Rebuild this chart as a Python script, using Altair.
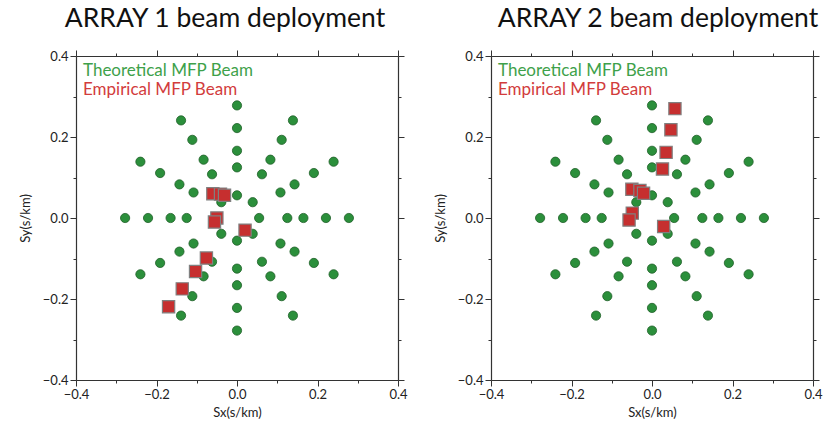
import altair as alt
import pandas as pd

# Theoretical MFP beam grid (slowness vector, s/km): inner 8-point ring plus four 12-point rings
theo_sx = [0.055, 0.039, 0.0, -0.039, -0.055, -0.039, 0.0, 0.039,
           0.125, 0.108, 0.062, 0.0, -0.062, -0.108, -0.125, -0.108, -0.062, 0.0, 0.062, 0.108,
           0.165, 0.143, 0.083, 0.0, -0.083, -0.143, -0.165, -0.143, -0.083, 0.0, 0.083, 0.143,
           0.221, 0.191, 0.111, 0.0, -0.111, -0.191, -0.221, -0.191, -0.111, 0.0, 0.111, 0.191,
           0.278, 0.240, 0.139, 0.0, -0.139, -0.240, -0.278, -0.240, -0.139, 0.0, 0.139, 0.240]
theo_sy = [0.0, 0.039, 0.056, 0.039, 0.0, -0.039, -0.056, -0.039,
           0.0, 0.063, 0.108, 0.125, 0.108, 0.063, 0.0, -0.063, -0.108, -0.125, -0.108, -0.063,
           0.0, 0.083, 0.144, 0.166, 0.144, 0.083, 0.0, -0.083, -0.144, -0.166, -0.144, -0.083,
           0.0, 0.111, 0.193, 0.222, 0.193, 0.111, 0.0, -0.111, -0.193, -0.222, -0.193, -0.111,
           0.0, 0.139, 0.241, 0.278, 0.241, 0.139, 0.0, -0.139, -0.241, -0.278, -0.241, -0.139]

# Empirical MFP beam positions for each array
emp1_sx = [-0.060, -0.041, -0.031, -0.050, -0.056, 0.020, -0.076, -0.103, -0.136, -0.170]
emp1_sy = [0.060, 0.059, 0.056, 0.000, -0.010, -0.030, -0.099, -0.132, -0.175, -0.219]
emp2_sx = [0.057, 0.047, 0.035, 0.026, -0.050, -0.030, -0.021, -0.049, -0.057, 0.029]
emp2_sy = [0.270, 0.218, 0.162, 0.121, 0.071, 0.068, 0.061, 0.012, -0.005, -0.021]

titles = ["ARRAY 1 beam deployment", "ARRAY 2 beam deployment"]
legend_labels = ["Theoretical MFP Beam", "Empirical MFP Beam"]
tick_values = [-0.4, -0.3, -0.2, -0.1, 0.0, 0.1, 0.2, 0.3, 0.4]

FONT = "Lato"
GREEN = "#2b8f3b"
RED = "#c62f2f"

# odd tenths get short unlabeled minor ticks, even tenths get labeled major ticks
minor = "round(abs(datum.value) * 10) % 2 == 1"
tick_size = {"condition": {"test": minor, "value": 3}, "value": 6}
label_expr = f"{minor} ? '' : format(datum.value, '.1f')"

def axis(orient, title=None, labels=True, title_pad=10):
    return alt.Axis(
        orient=orient, values=tick_values, tickSize=tick_size,
        labelExpr=label_expr, labels=labels, grid=False, title=title,
        domainColor="#333", tickColor="#333", domainWidth=1.2,
        labelFont=FONT, labelFontSize=13, labelColor="#222",
        labelPadding=2, labelFlush=False, labelOverlap=False,
        titleFont=FONT, titleFontSize=13, titleFontWeight="normal",
        titleColor="#222", titlePadding=title_pad,
    )

scale = alt.Scale(domain=[-0.4, 0.4], nice=False, zero=False)

def panel(title, ex, ey, title_dx):
    theo = pd.DataFrame({"sx": theo_sx, "sy": theo_sy})
    emp = pd.DataFrame({"sx": ex, "sy": ey})
    pts = alt.Chart(theo).mark_point(
        shape="circle", filled=True, size=85, color=GREEN,
        stroke="#1f5f28", strokeWidth=0.8, opacity=1
    ).encode(
        x=alt.X("sx:Q", scale=scale, axis=axis("bottom", "Sx(s/km)", title_pad=5)),
        y=alt.Y("sy:Q", scale=scale, axis=axis("left", "Sy(s/km)")),
    )
    sq = alt.Chart(emp).mark_point(
        shape="square", filled=True, size=150, color=RED,
        stroke="#808080", strokeWidth=1.2, opacity=1
    ).encode(
        x=alt.X("sx:Q", scale=scale, axis=axis("top", labels=False)),
        y=alt.Y("sy:Q", scale=scale, axis=axis("right", labels=False)),
    )
    leg = pd.DataFrame({"label": legend_labels, "row": [0, 1]})
    txt = alt.Chart(leg).mark_text(
        align="left", baseline="alphabetic", font=FONT, fontSize=17
    ).encode(
        x=alt.value(7),
        y=alt.Y("row:Q", scale=alt.Scale(domain=[0, 1], range=[20, 39]), axis=None),
        text="label:N",
        color=alt.Color("label:N", scale=alt.Scale(domain=legend_labels,
                                                   range=["#3ea14a", "#d23c3c"]),
                        legend=None),
    )
    return alt.layer(pts, sq, txt).resolve_axis(x="independent", y="independent").resolve_scale(
        y="independent"
    ).properties(
        width=322, height=324,
        title=alt.TitleParams(title, font=FONT, fontSize=26.5, fontWeight="normal",
                              color="#111", anchor="middle", offset=17, dx=title_dx),
    )

chart = alt.hconcat(
    panel(titles[0], emp1_sx, emp1_sy, -12),
    panel(titles[1], emp2_sx, emp2_sy, 6),
    spacing=25,
).properties(
    padding={"left": 18, "top": 5, "right": 2, "bottom": 2}
).configure_view(stroke=None).configure(background="white")

chart.save("out.html", embed_options={"renderer": "svg", "actions": False})
